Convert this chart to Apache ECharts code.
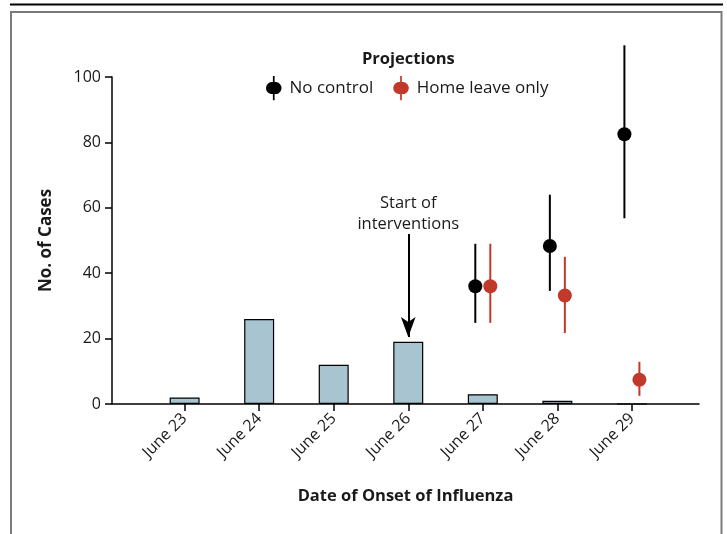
<!DOCTYPE html>
<html>
<head>
<meta charset="utf-8">
<script src="https://cdn.jsdelivr.net/npm/echarts@6/dist/echarts.min.js"></script>
<style>
html,body{margin:0;padding:0;background:#fff;}
#chart{width:727px;height:534px;}
</style>
</head>
<body>
<div id="chart"></div>
<script>
// ---- data ----
const categories = ['June 23', 'June 24', 'June 25', 'June 26', 'June 27', 'June 28', 'June 29'];
const dayValues = [23, 24, 25, 26, 27, 28, 29];
const reportedCases = [2, 26, 12, 19, 3, 1, 0];

const projectionDays = [27, 28, 29];
const noControlMid = [36, 48.3, 82.5];
const noControlLow = [24.8, 34.6, 56.8];
const noControlHigh = [49, 64, 109.7];
const homeLeaveMid = [36, 33.2, 7.4];
const homeLeaveLow = [24.8, 21.7, 2.5];
const homeLeaveHigh = [49, 45, 12.9];

const yTicks = [0, 20, 40, 60, 80, 100];
const interventionDay = 26;
const arrowFrom = 52;
const arrowTo = 20.5;

// ---- build ----
const FONT = '"Open Sans", "Noto Sans", sans-serif';
const TXT = '#1a1a1a';

const barData = dayValues.map((d, i) => [d, reportedCases[i]]);
const ncData = projectionDays.map((d, i) => [d, noControlMid[i], noControlLow[i], noControlHigh[i]]);
const hlData = projectionDays.map((d, i) => [d, homeLeaveMid[i], homeLeaveLow[i], homeLeaveHigh[i]]);

function makeRender(off) {
  return function (params, api) {
    const x = api.value(0);
    const c = api.coord([x, api.value(1)]);
    const lo = api.coord([x, api.value(2)]);
    const hi = api.coord([x, api.value(3)]);
    const color = api.visual('color');
    const cx = c[0] + off;
    return {
      type: 'group',
      children: [
        { type: 'line', shape: { x1: cx, y1: hi[1], x2: cx, y2: lo[1] }, style: { stroke: color, lineWidth: 2 } },
        { type: 'circle', shape: { cx: cx, cy: c[1], r: 7 }, style: { fill: color } }
      ]
    };
  };
}

const legendIcon = 'path://M-1,-14 L-1,-6.93 A7,7 0 1,0 -1,6.93 L-1,14 L1,14 L1,6.93 A7,7 0 1,0 1,-6.93 L1,-14 Z';

const chart = echarts.init(document.getElementById('chart'), null, { renderer: 'canvas' });
chart.setOption({
  animation: false,
  backgroundColor: '#fff',
  textStyle: { fontFamily: FONT },
  title: {
    text: 'Projections',
    left: 357, top: 46,
    textStyle: { fontFamily: FONT, fontSize: 16.5, fontWeight: 'bold', color: TXT }
  },
  legend: {
    left: 266, top: 76, padding: 0,
    itemWidth: 15.5, itemHeight: 31, itemGap: 20,
    textStyle: { fontFamily: FONT, fontSize: 17, color: TXT, padding: [0, 0, 0, 3] },
    data: [
      { name: 'No control', icon: legendIcon },
      { name: 'Home leave only', icon: legendIcon }
    ]
  },
  grid: { left: 112, top: 77, right: 28, bottom: 130, containLabel: false },
  xAxis: {
    type: 'value',
    min: 22.026, max: 29.9,
    splitLine: { show: false },
    axisLine: { show: true, onZero: false, lineStyle: { color: '#000', width: 1.5 } },
    axisTick: { show: true, customValues: dayValues, length: 7, lineStyle: { color: '#000', width: 1.5 } },
    axisLabel: {
      customValues: dayValues,
      rotate: 45, margin: 12,
      fontFamily: FONT, fontSize: 16, color: TXT,
      formatter: v => categories[dayValues.indexOf(Math.round(v))] || ''
    },
    name: 'Date of Onset of Influenza',
    nameLocation: 'middle', nameGap: 84,
    nameTextStyle: { fontFamily: FONT, fontSize: 16.5, fontWeight: 'bold', color: TXT }
  },
  yAxis: {
    type: 'value',
    min: 0, max: 100, interval: 20,
    splitLine: { show: false },
    axisLine: { show: true, lineStyle: { color: '#000', width: 1.5 } },
    axisTick: { show: true, length: 7, lineStyle: { color: '#000', width: 1.5 } },
    axisLabel: { margin: 11, fontFamily: FONT, fontSize: 16, color: TXT,
      formatter: v => (yTicks.indexOf(v) >= 0 ? String(v) : '') },
    name: 'No. of Cases',
    nameLocation: 'middle', nameGap: 57, nameRotate: 90,
    nameTextStyle: { fontFamily: FONT, fontSize: 17, fontWeight: 'bold', color: TXT }
  },
  series: [
    {
      type: 'bar',
      name: 'Cases',
      data: barData,
      barWidth: 30,
      itemStyle: { color: '#a9c4d1', borderColor: '#000', borderWidth: 1.2 },
      markLine: {
        silent: true,
        symbol: ['none', 'arrow'],
        symbolSize: [11, 20],
        lineStyle: { color: '#000', width: 2, type: 'solid' },
        label: {
          show: true, position: 'start', distance: -1,
          formatter: 'Start of\ninterventions',
          fontFamily: FONT, fontSize: 16.5, lineHeight: 21, color: TXT
        },
        data: [[{ coord: [interventionDay, arrowFrom] }, { coord: [interventionDay, arrowTo] }]]
      }
    },
    {
      type: 'custom',
      name: 'No control',
      data: ncData,
      encode: { x: 0, y: [1, 2, 3] },
      itemStyle: { color: '#000' },
      clip: false,
      renderItem: makeRender(-7.5),
      z: 5
    },
    {
      type: 'custom',
      name: 'Home leave only',
      data: hlData,
      encode: { x: 0, y: [1, 2, 3] },
      itemStyle: { color: '#c0392b' },
      clip: false,
      renderItem: makeRender(7.5),
      z: 5
    }
  ],
  graphic: [
    { type: 'line', shape: { x1: 10, y1: 4.5, x2: 723, y2: 4.5 }, style: { stroke: '#000', lineWidth: 2 } },
    { type: 'rect', shape: { x: 11, y: 12, width: 710.5, height: 540 }, style: { fill: 'none', stroke: '#7a7a7a', lineWidth: 2 } }
  ]
});
</script>
</body>
</html>
